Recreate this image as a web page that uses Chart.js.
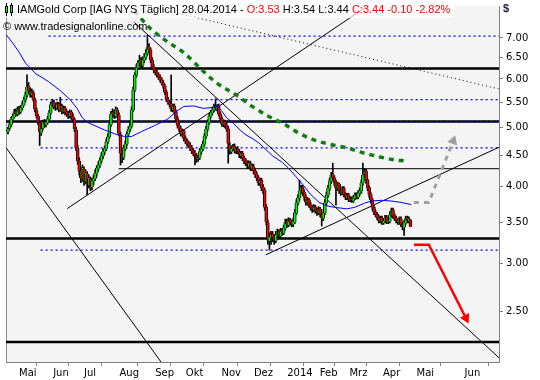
<!DOCTYPE html>
<html><head><meta charset="utf-8">
<script src="https://cdn.jsdelivr.net/npm/chart.js@4/dist/chart.umd.min.js"></script>
<style>
html,body{margin:0;padding:0;background:#fff;}
#wrap{position:relative;width:540px;height:380px;overflow:hidden;background:#fff;}
#c{position:absolute;left:0;top:0;}
#hdr{position:absolute;left:0;top:0;height:18px;width:454px;background:rgba(255,255,255,0.72);font:11px "Liberation Sans",Arial,sans-serif;line-height:18px;white-space:nowrap;color:#000;}
#hdr .t{position:absolute;left:17px;top:0;}
.red{color:#ff0000;}
#wm{position:absolute;left:3px;top:19px;font:11px "Liberation Sans",Arial,sans-serif;color:#000;line-height:14px;white-space:nowrap;}
#dollar{position:absolute;left:503px;top:2px;font:bold 11px "Liberation Sans",Arial,sans-serif;color:#1a1a50;}
.ic{position:absolute;box-sizing:border-box;}
</style></head>
<body>
<div id="wrap">
<canvas id="c" width="540" height="380"></canvas>
<div id="hdr">
  <div class="ic" style="left:6px;top:3px;width:1px;height:13px;background:#000"></div>
  <div class="ic" style="left:5px;top:6px;width:3px;height:7px;background:#00ff00;border:1px solid #000"></div>
  <div class="ic" style="left:11px;top:3px;width:1px;height:13px;background:#000"></div>
  <div class="ic" style="left:10px;top:5px;width:3px;height:8px;background:#00ff00;border:1px solid #000"></div>
  <span class="t">IAMGold Corp [IAG NYS Täglich] 28.04.2014 - <span class="red">O:3.53</span> H:3.54 L:3.44 <span class="red">C:3.44 -0.10 -2.82%</span></span>
</div>
<div id="wm">© www.tradesignalonline.com</div>
<div id="dollar">$</div>
</div>
<script>
// ---- candle data (trading-day index 0 = late April 2013, last = 28.04.2014) ----
const opens = [
4.92,4.98,5.05,5.15,5.20,5.32,5.25,5.36,5.30,5.38,
5.44,5.54,5.64,5.85,5.73,5.64,5.70,5.56,5.34,5.22,
5.08,4.90,4.98,5.11,5.05,5.09,5.15,5.28,5.44,5.50,
5.42,5.38,5.46,5.34,5.42,5.30,5.38,5.30,5.27,5.21,
5.30,5.21,5.15,4.96,4.63,4.41,4.25,4.12,4.28,4.08,
4.20,4.02,4.12,3.99,4.08,4.12,4.20,4.28,4.33,4.41,
4.49,4.56,4.61,4.73,4.82,5.05,5.25,5.30,5.21,5.34,
5.24,4.87,4.52,4.46,4.61,4.69,4.87,4.96,5.02,5.34,
5.75,6.08,6.26,6.36,6.45,6.31,6.43,6.51,6.60,6.78,
6.70,6.45,6.28,6.21,6.15,6.10,6.05,5.99,5.92,5.84,
5.71,5.56,5.48,5.46,5.34,5.42,5.30,5.17,5.04,4.98,
4.87,4.93,4.80,4.75,4.71,4.68,4.63,4.58,4.54,4.49,
4.44,4.46,4.56,4.61,4.69,4.83,4.96,5.09,5.21,5.28,
5.34,5.42,5.36,5.42,5.27,5.17,5.05,5.11,5.04,4.98,
4.68,4.56,4.61,4.66,4.57,4.61,4.56,4.49,4.54,4.46,
4.41,4.38,4.31,4.36,4.28,4.31,4.25,4.19,4.14,4.05,
4.10,3.99,3.95,3.71,3.50,3.26,3.30,3.35,3.31,3.26,
3.33,3.38,3.32,3.40,3.36,3.42,3.51,3.46,3.53,3.51,
3.47,3.50,3.62,3.76,3.83,3.93,3.99,3.92,3.85,3.76,
3.81,3.74,3.71,3.66,3.71,3.67,3.62,3.68,3.61,3.55,
3.62,3.76,3.87,3.97,4.08,4.19,4.14,4.07,3.97,4.04,
3.95,3.90,3.98,3.89,3.83,3.88,3.80,3.83,3.79,3.83,
3.89,3.84,3.90,3.93,4.05,4.19,4.25,4.10,3.99,3.89,
3.81,3.71,3.64,3.61,3.57,3.51,3.56,3.49,3.51,3.57,
3.50,3.51,3.59,3.67,3.59,3.56,3.53,3.49,3.55,3.48,
3.43,3.49,3.56,3.51,3.53];
const highs = [
5.00,5.09,5.19,5.25,5.35,5.36,5.40,5.41,5.43,5.50,
5.60,5.71,6.09,5.92,5.80,5.78,5.74,5.58,5.38,5.25,
5.12,5.02,5.14,5.15,5.14,5.21,5.33,5.50,5.56,5.54,
5.47,5.50,5.49,5.60,5.46,5.42,5.41,5.34,5.31,5.34,
5.33,5.26,5.18,5.00,4.68,4.46,4.30,4.34,4.31,4.26,
4.23,4.18,4.15,4.13,4.18,4.26,4.33,4.39,4.46,4.55,
4.61,4.66,4.79,4.88,5.10,5.31,5.36,5.34,5.40,5.38,
5.28,4.91,4.57,4.67,4.75,4.92,5.02,5.08,5.40,5.82,
6.14,6.33,6.43,6.56,6.50,6.52,6.60,6.70,7.07,6.85,
6.74,6.50,6.33,6.26,6.20,6.14,6.09,6.03,5.96,5.88,
5.75,5.60,5.53,6.09,5.46,5.46,5.34,5.21,5.08,5.02,
4.97,4.96,4.84,4.79,4.75,4.72,4.67,4.62,4.58,4.53,
4.50,4.62,4.66,4.75,4.88,5.02,5.14,5.26,5.33,5.40,
5.46,5.57,5.45,5.46,5.30,5.20,5.14,5.14,5.08,5.02,
4.72,4.66,4.69,4.70,4.64,4.65,4.60,4.57,4.57,4.49,
4.45,4.41,4.41,4.40,4.36,4.35,4.28,4.22,4.17,4.13,
4.13,4.03,3.98,3.74,3.53,3.36,3.38,3.38,3.34,3.38,
3.41,3.40,3.42,3.42,3.46,3.54,3.54,3.56,3.55,3.53,
3.55,3.67,3.81,3.88,4.10,4.02,4.02,3.95,3.88,3.84,
3.83,3.77,3.73,3.74,3.73,3.69,3.71,3.70,3.63,3.67,
3.81,3.92,4.02,4.13,4.22,4.37,4.17,4.10,4.07,4.06,
3.97,4.00,4.00,3.91,3.90,3.90,3.85,3.85,3.87,3.91,
3.91,3.94,3.98,4.10,4.37,4.28,4.27,4.12,4.01,3.91,
3.83,3.73,3.66,3.63,3.59,3.58,3.58,3.55,3.59,3.59,
3.55,3.64,3.69,3.69,3.61,3.58,3.55,3.57,3.57,3.50,
3.52,3.58,3.58,3.57,3.54];
const lows = [
4.88,4.95,5.02,5.10,5.18,5.22,5.22,5.25,5.27,5.34,
5.42,5.50,5.60,5.70,5.60,5.60,5.52,5.30,5.18,5.05,
4.67,4.85,4.95,5.00,5.01,5.06,5.12,5.25,5.40,5.36,
5.33,5.35,5.30,5.31,5.26,5.27,5.24,5.21,5.17,5.18,
5.15,5.10,4.92,4.58,4.35,4.18,4.06,4.08,4.02,4.05,
3.88,3.98,3.94,3.95,4.03,4.09,4.16,4.24,4.30,4.38,
4.45,4.52,4.58,4.70,4.80,5.02,5.20,5.17,5.18,5.20,
4.84,4.34,4.38,4.43,4.58,4.66,4.84,4.92,5.00,5.31,
5.72,6.04,6.21,6.30,6.25,6.27,6.38,6.46,6.56,6.62,
6.38,6.22,6.14,6.09,6.04,5.99,5.93,5.87,5.79,5.66,
5.51,5.45,5.40,5.31,5.30,5.25,5.12,4.99,4.93,4.84,
4.83,4.75,4.70,4.66,4.63,4.58,4.53,4.49,4.34,4.38,
4.40,4.43,4.52,4.58,4.66,4.80,4.93,5.06,5.18,5.24,
5.30,5.33,5.32,5.22,5.12,5.02,5.01,4.99,4.93,4.37,
4.52,4.53,4.58,4.54,4.53,4.53,4.46,4.45,4.41,4.36,
4.33,4.28,4.28,4.25,4.25,4.20,4.14,4.09,4.02,4.02,
3.94,3.90,3.66,3.46,3.22,3.15,3.22,3.25,3.22,3.24,
3.30,3.29,3.30,3.33,3.34,3.40,3.43,3.44,3.46,3.44,
3.44,3.48,3.60,3.73,3.80,3.90,3.87,3.80,3.73,3.73,
3.70,3.66,3.63,3.64,3.62,3.59,3.60,3.57,3.45,3.52,
3.60,3.73,3.84,3.94,4.05,4.09,4.02,3.73,3.94,3.90,
3.87,3.88,3.85,3.81,3.81,3.78,3.78,3.77,3.77,3.81,
3.82,3.82,3.87,3.90,4.02,4.15,4.05,3.94,3.84,3.76,
3.66,3.60,3.57,3.53,3.49,3.49,3.47,3.47,3.49,3.48,
3.48,3.49,3.57,3.55,3.52,3.49,3.47,3.47,3.44,3.40,
3.33,3.47,3.49,3.49,3.44];
const closes = [
4.97,5.06,5.16,5.22,5.31,5.26,5.35,5.29,5.39,5.45,
5.55,5.66,5.83,5.74,5.66,5.70,5.55,5.35,5.22,5.10,
4.92,4.97,5.10,5.06,5.10,5.16,5.29,5.45,5.49,5.41,
5.39,5.45,5.35,5.41,5.31,5.37,5.29,5.26,5.22,5.29,
5.20,5.16,4.97,4.62,4.40,4.24,4.13,4.29,4.09,4.21,
4.03,4.13,3.98,4.09,4.13,4.21,4.29,4.34,4.42,4.50,
4.57,4.62,4.74,4.83,5.06,5.26,5.29,5.22,5.35,5.26,
4.88,4.53,4.45,4.62,4.70,4.88,4.97,5.03,5.35,5.76,
6.09,6.27,6.37,6.44,6.32,6.44,6.52,6.61,6.76,6.69,
6.44,6.27,6.20,6.14,6.09,6.04,5.98,5.91,5.83,5.70,
5.55,5.49,5.45,5.35,5.41,5.29,5.16,5.03,4.97,4.88,
4.92,4.79,4.74,4.70,4.67,4.62,4.57,4.53,4.50,4.45,
4.45,4.57,4.62,4.70,4.84,4.97,5.10,5.22,5.29,5.35,
5.41,5.37,5.41,5.26,5.16,5.06,5.10,5.03,4.97,4.70,
4.57,4.62,4.65,4.58,4.60,4.57,4.50,4.53,4.45,4.40,
4.37,4.32,4.37,4.29,4.32,4.24,4.18,4.13,4.06,4.09,
3.98,3.94,3.70,3.50,3.27,3.31,3.34,3.30,3.27,3.34,
3.37,3.33,3.39,3.37,3.43,3.50,3.47,3.52,3.50,3.48,
3.51,3.63,3.77,3.84,3.94,3.98,3.91,3.84,3.77,3.80,
3.73,3.70,3.67,3.70,3.66,3.63,3.67,3.60,3.56,3.63,
3.77,3.88,3.98,4.09,4.18,4.13,4.06,3.98,4.03,3.94,
3.91,3.97,3.88,3.84,3.87,3.81,3.82,3.80,3.84,3.88,
3.85,3.91,3.94,4.06,4.18,4.24,4.09,3.98,3.88,3.80,
3.70,3.63,3.60,3.56,3.52,3.55,3.50,3.52,3.56,3.51,
3.52,3.60,3.66,3.58,3.55,3.52,3.50,3.54,3.47,3.44,
3.50,3.55,3.52,3.54,3.44];

// ---- moving average (sampled) ----
const maIndex = [-1.2,3.1,6.9,11.2,17.5,25.6,33.0,39.2,43.6,46.8,49.9,54.9,61.1,67.3,73.6,77.9,84.2,92.3,100.4,106.0,111.0,117.2,123.4,129.7,132.2,134.7,137.8,142.1,146.5,150.2,154.6,159.0,162.7,167.1,173.3,177.7,181.5,185.8,190.8,196.4,201.4,206.4,213.8,218.8,225.1,229.4,235.7,241.9,248.1,254.4];
const maValue = [7.09,6.86,6.64,6.36,6.12,5.94,5.74,5.55,5.37,5.19,5.10,5.03,4.95,4.88,4.83,4.83,4.92,5.03,5.15,5.30,5.41,5.42,5.37,5.39,5.41,5.33,5.19,5.08,4.95,4.86,4.79,4.70,4.60,4.49,4.38,4.27,4.16,4.04,3.89,3.77,3.72,3.70,3.68,3.70,3.76,3.79,3.80,3.79,3.77,3.74];

// ---- green dashed arc ----
const arcIndex = [79.8,89.2,98.5,111.0,123.4,131.7,145.3,154.6,164.0,173.3,183.1,193.1,203.4,213.8,223.2,233.6,245.0,250.2];
const arcValue = [7.75,7.28,6.96,6.62,6.17,5.91,5.62,5.40,5.22,5.08,4.90,4.77,4.69,4.63,4.55,4.48,4.42,4.41];

// ---- axis ----
const monthIndex = [7,28.5,48,70.4,92.9,112.2,134.7,155.2,176.2,196.8,215.5,236.7,257.9,288.2];
const monthLabels = ['Mai','Jun','Jul','Aug','Sep','Okt','Nov','Dez','2014','Feb','Mrz','Apr','Mai','Jun'];
const priceTicks = [2.5,3.0,3.5,4.0,4.5,5.0,5.5,6.0,6.5,7.0];
const xMin = -1.25, xMax = 309.9, yMin = 2.068, yMax = 7.894;

// ---- drawn levels and trend lines (index, price) ----
const thickLevels = [6.24, 5.11, 3.29, 2.23];
const thinLevel = [69.8, 4.28];            // start index, price
const dottedLevels = [7.05, 5.55, 5.11, 4.63, 3.15];
const dottedStart = [25.6, 20.6, 20.6, 20.6, 20.6];
const trendLines = [
  [[-1.25, 4.634], [96.6, 2.068]],
  [[37.4, 3.683], [226.9, 7.894]],
  [[162.7, 3.095], [309.9, 4.64]],
  [[79.8, 7.42], [309.9, 2.101]]
];
const dottedTrend = [[87.9, 7.894], [309.9, 5.777]];
const upArrow = [[256.2, 3.77], [265.6, 3.77], [281.0, 4.75]];
const downArrow = [[256.2, 3.216], [265.6, 3.216], [289.0, 2.44]];

const P = a => ({x: a[0], y: a[1]});
function line(points, color, width, dash, order, extra) {
  return Object.assign({type: 'line', data: points, borderColor: color, backgroundColor: color,
    borderWidth: width, borderDash: dash || [], pointRadius: 0, fill: false, tension: 0,
    order: order, clip: 0, borderCapStyle: 'butt'}, extra || {});
}

const datasets = [];
// candles
datasets.push({type: 'bar', label: 'wick', order: 6, grouped: false, barThickness: 1,
  data: closes.map((c, i) => ({x: i, y: [lows[i], highs[i]]})), backgroundColor: '#000', borderWidth: 0});
datasets.push({type: 'bar', label: 'body', order: 5, grouped: false, barThickness: 3,
  data: closes.map((c, i) => ({x: i, y: [Math.min(opens[i], c), Math.max(opens[i], c) + (opens[i] === c ? 0.005 : 0)]})),
  backgroundColor: closes.map((c, i) => c >= opens[i] ? '#00ff00' : '#ff0000'),
  borderColor: '#000', borderWidth: {left: 1, right: 1, top: 0, bottom: 0}, borderSkipped: false});
// thick levels
thickLevels.forEach(v => datasets.push(line([{x: xMin, y: v}, {x: xMax, y: v}], '#000', 2.5, [], 12)));
datasets.push(line([{x: thinLevel[0], y: thinLevel[1]}, {x: xMax, y: thinLevel[1]}], '#000', 1, [], 12));
dottedLevels.forEach((v, k) => datasets.push(line([{x: dottedStart[k], y: v}, {x: xMax, y: v}], '#0000ff', 1.3, [2, 3], 11)));
trendLines.forEach(t => datasets.push(line(t.map(P), '#000', 1, [], 10)));
datasets.push(line(dottedTrend.map(P), '#000', 1, [1, 3], 10));
// moving average
datasets.push(line(maIndex.map((x, i) => ({x: x, y: maValue[i]})), '#0000ff', 1, [], 2));
// green arc
datasets.push(line(arcIndex.map((x, i) => ({x: x, y: arcValue[i]})), '#127a12', 3.5, [5, 5], 1,
  {cubicInterpolationMode: 'monotone'}));
// arrows
datasets.push(line(upArrow.map(P), '#a0a0a0', 3, [5, 5], 0,
  {pointRadius: [0, 0, 6], pointStyle: 'triangle', rotation: [0, 0, 20], pointBorderWidth: 0, pointBackgroundColor: '#a0a0a0'}));
datasets.push(line(downArrow.map(P), '#ff0000', 2.5, [], 0,
  {pointRadius: [0, 0, 6], pointStyle: 'triangle', rotation: [0, 0, 153], pointBorderWidth: 0, pointBackgroundColor: '#ff0000'}));

const bg = {id: 'bg', beforeDraw(chart) {
  const {ctx, chartArea: a} = chart;
  ctx.save();
  ctx.fillStyle = '#f4f4f4';
  ctx.fillRect(a.left, a.top, a.right - a.left, a.bottom - a.top);
  ctx.strokeStyle = '#8c8c8c'; ctx.lineWidth = 1;
  ctx.beginPath(); ctx.moveTo(a.left + 0.5, a.top); ctx.lineTo(a.left + 0.5, a.bottom); ctx.stroke();
  ctx.restore();
}};

new Chart(document.getElementById('c'), {
  type: 'bar',
  data: {datasets},
  plugins: [bg],
  options: {
    responsive: false, devicePixelRatio: 1, animation: false,
    layout: {padding: 0},
    plugins: {legend: {display: false}, tooltip: {enabled: false}, title: {display: false}},
    scales: {
      x: {type: 'linear', position: 'bottom', min: xMin, max: xMax, offset: false,
        afterBuildTicks: s => { s.ticks = monthIndex.map(v => ({value: v})); },
        afterFit: s => { s.height = 18; s.paddingLeft = 0; s.paddingRight = 0; },
        ticks: {autoSkip: false, maxRotation: 0, minRotation: 0, align: 'start', padding: 1,
          color: '#000', font: {family: 'DejaVu Sans', size: 10},
          callback: (v, i) => monthLabels[i]},
        grid: {drawOnChartArea: false, drawTicks: true, tickLength: 4, color: '#808080'},
        border: {display: true, color: '#808080'}},
      y: {type: 'logarithmic', position: 'right', min: yMin, max: yMax,
        afterBuildTicks: s => { s.ticks = priceTicks.map(v => ({value: v})); },
        afterFit: s => { s.width = 41; s.paddingTop = 0; s.paddingBottom = 0; },
        ticks: {autoSkip: false, padding: 3, color: '#000', font: {family: 'DejaVu Sans', size: 10},
          callback: v => Number(v).toFixed(2)},
        grid: {drawOnChartArea: false, drawTicks: true, tickLength: 4, color: '#808080'},
        border: {display: true, color: '#808080'}}
    }
  }
});
</script>
</body></html>
